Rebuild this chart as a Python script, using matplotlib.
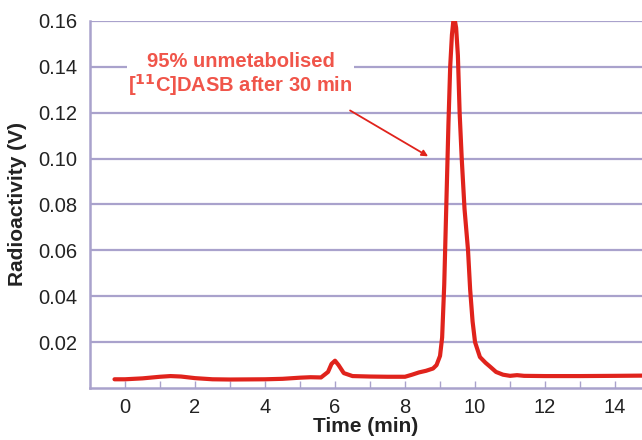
import matplotlib
matplotlib.use("Agg")
import matplotlib.pyplot as plt

plt.rcParams['font.family'] = ['Liberation Sans', 'DejaVu Sans']

time_min = [-0.3, 0.0, 0.5, 1.0, 1.3, 1.6, 2.0, 2.5, 3.0, 4.0, 4.5, 5.0, 5.3, 5.6,
            5.8, 5.9, 6.0, 6.1, 6.25, 6.5, 7.0, 7.5, 8.0, 8.2, 8.4, 8.6, 8.8, 8.9,
            9.0, 9.06, 9.12, 9.18, 9.24, 9.29, 9.34, 9.38, 9.42, 9.46, 9.51,
            9.56, 9.62, 9.7, 9.8, 9.86, 9.93, 10.0, 10.14, 10.3, 10.43, 10.6,
            10.8, 11.0, 11.2, 11.4, 12.0, 13.0, 14.0, 14.8]
radioactivity = [0.0038, 0.0038, 0.0042, 0.0049, 0.0052, 0.0050, 0.0043, 0.0038,
                 0.0037, 0.0038, 0.0040, 0.0045, 0.0047, 0.0046, 0.0070, 0.0105,
                 0.0119, 0.0100, 0.0065, 0.0052, 0.0050, 0.0049, 0.0049, 0.0058,
                 0.0068, 0.0075, 0.0085, 0.0100, 0.0140, 0.0220, 0.0450, 0.0800,
                 0.1150, 0.1400, 0.1540, 0.1600, 0.1605, 0.1570, 0.1450, 0.1200,
                 0.1000, 0.0780, 0.0600, 0.0430, 0.0290, 0.0200, 0.0135, 0.0110,
                 0.0093, 0.0070, 0.0058, 0.0053, 0.0056, 0.0053, 0.0052, 0.0052,
                 0.0053, 0.0054]

x_ticks = [0, 2, 4, 6, 8, 10, 12, 14]
y_ticks = [0.02, 0.04, 0.06, 0.08, 0.10, 0.12, 0.14, 0.16]
y_tick_labels = ['0.02', '0.04', '0.06', '0.08', '0.10', '0.12', '0.14', '0.16']

grid_c = '#a9a2cc'
red = '#e0231c'
text_red = '#f0554a'

fig = plt.figure(figsize=(6.42, 4.40), dpi=100)
ax = fig.add_axes([90/642, 1 - 388/440, (642 - 90)/642, (388 - 21)/440])

ax.plot(time_min, radioactivity, color=red, lw=3.0, solid_capstyle='round',
        solid_joinstyle='round', zorder=3)

ax.set_xlim(-1.0, 14.77)
ax.set_ylim(0, 0.16)
ax.set_xticks(x_ticks)
ax.set_xticks(range(0, 15), minor=True)
ax.set_yticks(y_ticks)
ax.set_yticklabels(y_tick_labels)
ax.tick_params(axis='y', length=0, labelsize=14.5, pad=9, labelcolor='#222222')
ax.tick_params(axis='x', which='both', direction='in', length=5, width=1,
               color=grid_c, labelsize=14.5, pad=7, labelcolor='#222222')
ax.yaxis.grid(True, color=grid_c, lw=1.6, zorder=0)
ax.set_axisbelow(True)
for s in ['top', 'right']:
    ax.spines[s].set_visible(False)
for s in ['left', 'bottom']:
    ax.spines[s].set_color(grid_c)
    ax.spines[s].set_linewidth(1.8)

ax.set_xlabel('Time (min)', fontsize=15, fontweight='bold', labelpad=0,
              color='#222222')
ax.set_ylabel('Radioactivity (V)', fontsize=15, fontweight='bold', labelpad=8,
              color='#222222')

ax.text(3.3, 0.1365, '95% unmetabolised\n[$^{\\mathbf{11}}$C]DASB after 30 min',
        color=text_red, fontsize=14.5, fontweight='bold', ha='center', va='center',
        linespacing=1.05, zorder=4,
        bbox=dict(facecolor='white', edgecolor='none', pad=1))
ax.annotate('', xy=(8.66, 0.101), xytext=(6.43, 0.121),
            arrowprops=dict(arrowstyle='-|>', color=red, lw=1.3,
                            mutation_scale=9, shrinkA=0, shrinkB=0), zorder=4)

fig.savefig('out.png', dpi=100)
